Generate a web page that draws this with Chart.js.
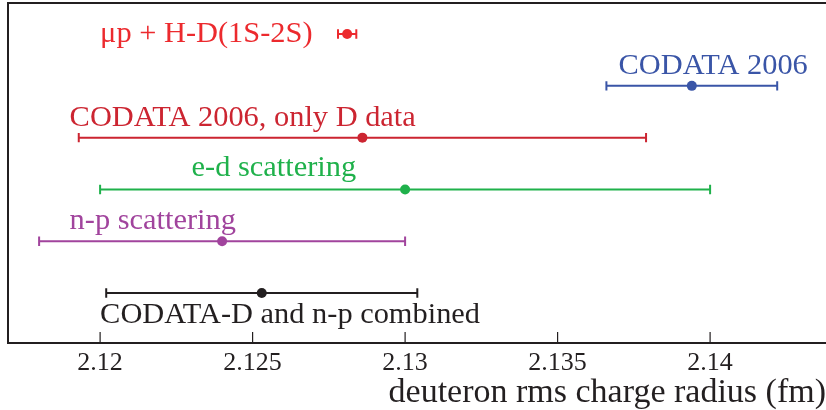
<!DOCTYPE html>
<html lang="en">
<head>
    <meta charset="UTF-8">
    <title>Deuteron rms charge radius</title>
    <style>
        html, body { margin: 0; padding: 0; background: #fff; }
        #radius-chart { display: block; }
    </style>
</head>
<body>
    <canvas id="radius-chart" width="826" height="410"></canvas>
    <script src="https://cdn.jsdelivr.net/npm/chart.js"></script>
    <script>
        // measurements, top to bottom
        const measurements = ['μp + H-D(1S-2S)', 'CODATA 2006', 'CODATA 2006, only D data', 'e-d scattering', 'n-p scattering', 'CODATA-D and n-p combined'];
        const radius = [2.1281, 2.1394, 2.1286, 2.1300, 2.1240, 2.1253];      // fm
        const uncertainty = [0.0003, 0.0028, 0.0093, 0.0100, 0.0060, 0.0051]; // fm
        const tickValues = [2.12, 2.125, 2.13, 2.135, 2.14];
        const tickLabels = ['2.12', '2.125', '2.13', '2.135', '2.14'];

        const colors = ['#ec2a2e', '#3a55a7', '#cc2531', '#1fb14b', '#a1449d', '#231f20'];
        const ink = '#231f20';
        const serif = '"Liberation Serif", "Times New Roman", serif';

        // where each caption sits: left edge (fm) and baseline offset from its bar (px)
        const captionX = [2.1200, 2.1370, 2.1190, 2.1230, 2.1190, 2.1200];
        const captionDy = [7.5, -12, -12, -13, -12, 30];

        // horizontal error bars with end caps, plus the captions
        const errorBars = {
            id: 'errorBars',
            beforeDatasetsDraw(chart) {
                const { ctx, scales: { x, y } } = chart;
                ctx.save();
                ctx.lineWidth = 2;
                radius.forEach((r, i) => {
                    const py = y.getPixelForValue(i);
                    const x0 = x.getPixelForValue(r - uncertainty[i]);
                    const x1 = x.getPixelForValue(r + uncertainty[i]);
                    ctx.strokeStyle = colors[i];
                    ctx.beginPath();
                    ctx.moveTo(x0, py); ctx.lineTo(x1, py);
                    ctx.moveTo(x0, py - 4.7); ctx.lineTo(x0, py + 4.7);
                    ctx.moveTo(x1, py - 4.7); ctx.lineTo(x1, py + 4.7);
                    ctx.stroke();
                });
                ctx.font = '30.4px ' + serif;
                ctx.textAlign = 'left';
                ctx.textBaseline = 'alphabetic';
                measurements.forEach((m, i) => {
                    ctx.fillStyle = colors[i];
                    ctx.fillText(m, x.getPixelForValue(captionX[i]), y.getPixelForValue(i) + captionDy[i]);
                });
                ctx.restore();
            },
            afterDraw(chart) {
                // frame on top and left, inward tick marks on the x axis
                const { ctx, chartArea: a, scales: { x } } = chart;
                ctx.save();
                ctx.strokeStyle = ink;
                ctx.lineWidth = 2;
                ctx.beginPath();
                ctx.moveTo(a.left, a.bottom); ctx.lineTo(a.left, a.top); ctx.lineTo(a.right, a.top);
                ctx.stroke();
                ctx.lineWidth = 1.2;
                ctx.beginPath();
                tickValues.forEach(v => {
                    const px = x.getPixelForValue(v);
                    ctx.moveTo(px, a.bottom); ctx.lineTo(px, a.bottom - 11);
                });
                ctx.stroke();
                ctx.restore();
            }
        };

        const config = {
            type: 'scatter',
            data: {
                datasets: [{
                    data: radius.map((r, i) => ({ x: r, y: i })),
                    pointRadius: 5,
                    pointHoverRadius: 5,
                    pointBorderWidth: 0,
                    pointBackgroundColor: colors
                }]
            },
            options: {
                responsive: false,
                animation: false,
                layout: { autoPadding: false, padding: { left: 8, top: 3, right: 0, bottom: 0 } },
                scales: {
                    x: {
                        type: 'linear',
                        min: 2.11698,
                        max: 2.1438,
                        afterBuildTicks: scale => { scale.ticks = tickValues.map(v => ({ value: v })); },
                        afterFit: scale => { scale.height = 67; },
                        grid: { display: false, drawTicks: false },
                        border: { display: true, color: ink, width: 2 },
                        ticks: {
                            color: ink,
                            padding: 7,
                            font: { family: serif, size: 26, lineHeight: 1 },
                            callback: (v, idx) => tickLabels[idx]
                        },
                        title: {
                            display: true,
                            text: 'deuteron rms charge radius (fm)',
                            align: 'end',
                            color: ink,
                            padding: { top: 0, bottom: 0 },
                            font: { family: serif, size: 34, lineHeight: 1 }
                        }
                    },
                    y: {
                        type: 'linear',
                        min: -0.6,
                        max: 5.965,
                        reverse: true,
                        display: false
                    }
                },
                plugins: {
                    legend: { display: false },
                    tooltip: { enabled: false }
                }
            },
            plugins: [errorBars]
        };

        new Chart(document.getElementById('radius-chart'), config);
    </script>
</body>
</html>
